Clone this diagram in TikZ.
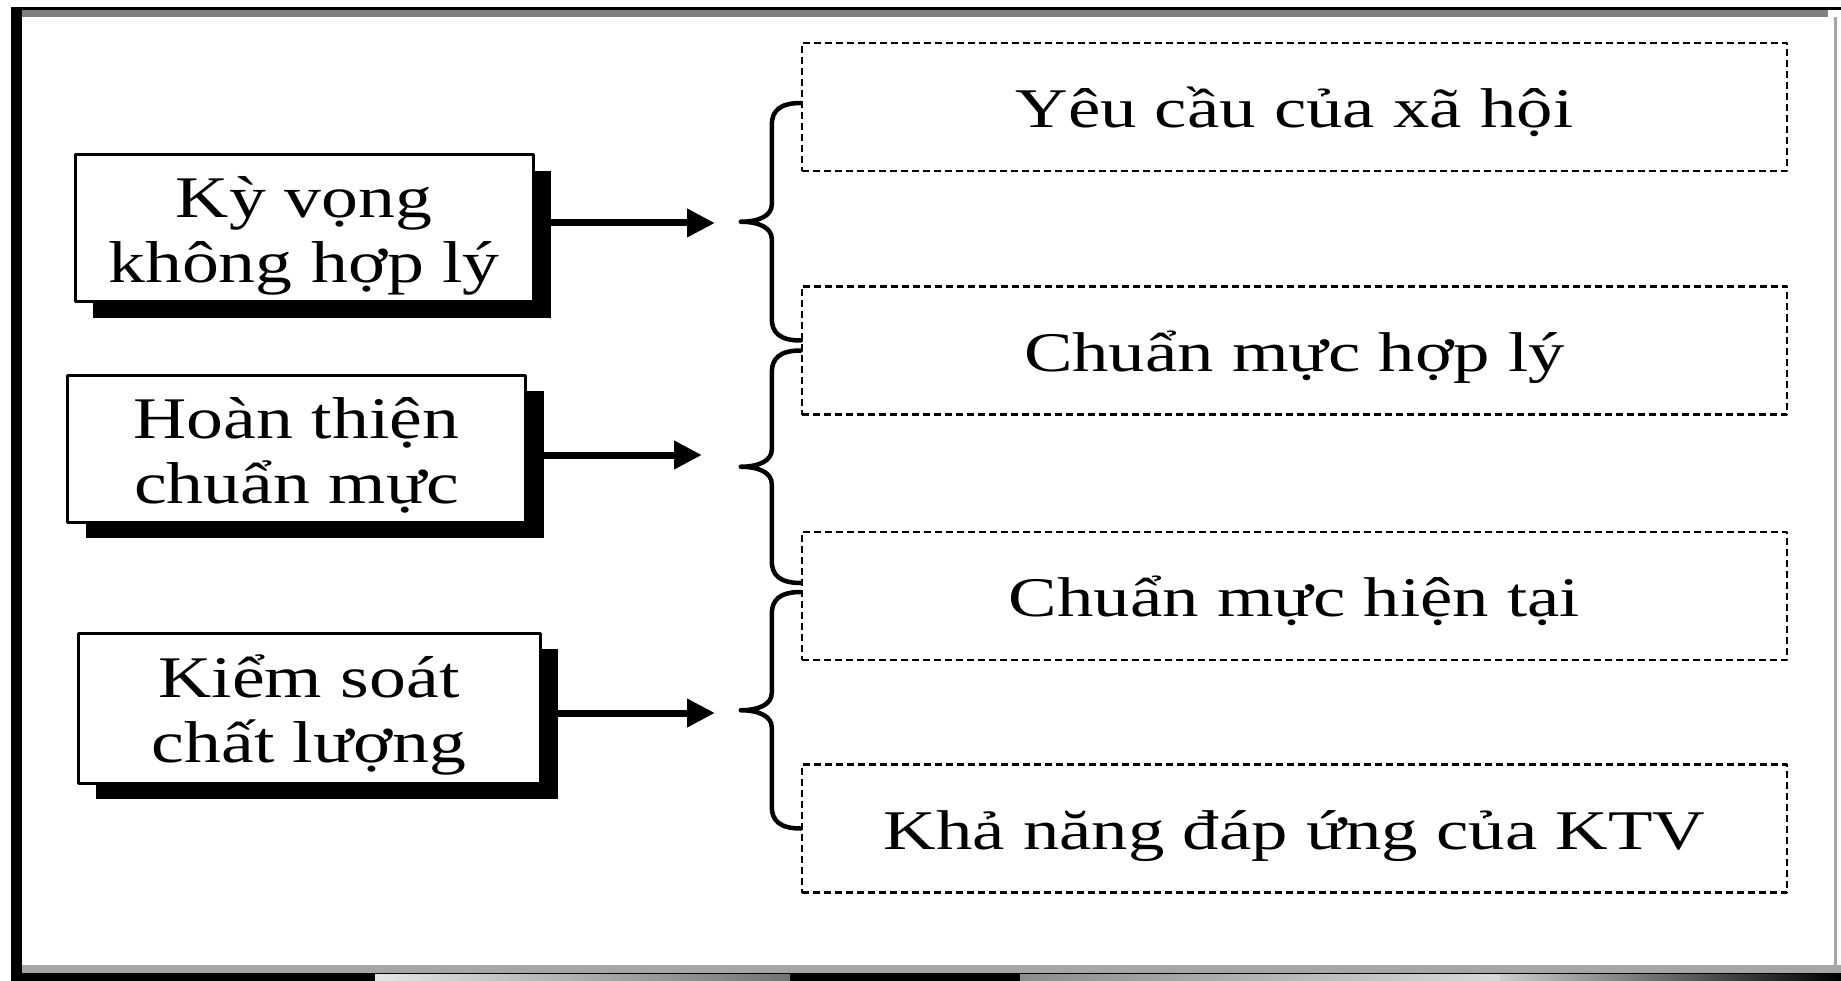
\documentclass[tikz,border=0pt]{standalone}
\usepackage{fontspec}
\setmainfont{Liberation Serif}
\newfontfamily\causefont{Liberation Serif}[FakeStretch=1.25]
\newfontfamily\itemfont{Liberation Serif}[FakeStretch=1.3]
\usetikzlibrary{arrows.meta,calc,shadows}

\newcommand\twolines[2]{\rule{0pt}{60pt}#1\\#2\rule[-16pt]{0pt}{16pt}}
\newcommand\groupbrace[3]{%
  \path ($(#1)!.5!(#2)$) coordinate (#3);
  \draw[curly] (#1) .. controls +(-21,0) and +(0,-14) .. ($(#1)+(-29,22)$)
    -- ($(#3)+(-29,-17)$) .. controls +(0,11) and +(18,0) .. ($(#3)+(-60,0)$)
    .. controls +(18,0) and +(0,-11) .. ($(#3)+(-29,17)$)
    -- ($(#2)+(-29,-22)$) .. controls +(0,14) and +(-21,0) .. (#2);}

\begin{document}
\begin{tikzpicture}
	[x=1pt,y=-1pt,line join=round,>={Triangle[length=28pt,width=27pt]},
	 cause/.style={draw,line width=3pt,fill=white,minimum width=458pt,minimum height=147pt,
	   inner sep=0pt,align=center,font=\causefont\fontsize{59}{65}\selectfont,
	   drop shadow={fill=black,opacity=1,shadow xshift=18pt,shadow yshift=-16pt}},
	 item/.style={draw,line width=2.5pt,dash pattern=on 7pt off 4pt,minimum width=985pt,
	   minimum height=128pt,inner sep=0pt,text height=52pt,text depth=11pt,
	   font=\itemfont\fontsize{56}{60}\selectfont},
	 curly/.style={line width=4.5pt,line cap=round},
	 link/.style={->,line width=7pt}]
	\useasboundingbox (0,0) rectangle (1841,981);
	\fill[white] (0,0) rectangle (1841,981);
	\fill[black] (11,7) rectangle (1841,10);
	\fill[black!50] (22,10) rectangle (1828,17);
	\fill[black] (11,7) rectangle (22,981);
	\fill[black!35] (1834,17) rectangle (1837,965);
	\fill[black!35] (22,965) rectangle (1841,973);
	\fill[black] (11,973) rectangle (1841,981);
	\shade[left color=white!90!black,right color=black!55] (375,974) rectangle (790,981);
	\shade[left color=black!45,right color=white!85!black] (1020,974) rectangle (1500,981);
	\shade[left color=white!80!black,right color=black] (1500,974) rectangle (1841,981);

	\node[cause] (k1) at (304,228.5) {\twolines{Kỳ vọng}{không hợp lý}};
	\node[cause] (k2) at (296.5,448.5) {\twolines{Hoàn thiện}{chuẩn mực}};
	\node[cause,minimum width=462pt,minimum height=150pt] (k3) at (309,708) {\twolines{Kiểm soát}{chất lượng}};

	\node[item] (r1) at (1294.5,107) {Yêu cầu của xã hội};
	\node[item] (r2) at (1294.5,350.5) {Chuẩn mực hợp lý};
	\node[item] (r3) at (1294.5,596) {Chuẩn mực hiện tại};
	\node[item] (r4) at (1294.5,828.5) {Khả năng đáp ứng của KTV};

	\coordinate (b1a) at ([yshift=4pt]r1.west);
	\coordinate (b1b) at ([yshift=10pt]r2.west);
	\coordinate (b2a) at (r2.west);
	\coordinate (b2b) at ([yshift=13pt]r3.west);
	\coordinate (b3a) at ([yshift=4pt]r3.west);
	\coordinate (b3b) at (r4.west);
	\groupbrace{b1a}{b1b}{m1}
	\groupbrace{b2a}{b2b}{m2}
	\groupbrace{b3a}{b3b}{m3}

	\coordinate (t1) at (715,223);
	\coordinate (t2) at (702,455);
	\coordinate (t3) at (715,713);
	\draw[link] (k1.east |- t1) -- (t1);
	\draw[link] (k2.east |- t2) -- (t2);
	\draw[link] (k3.east |- t3) -- (t3);
\end{tikzpicture}
\end{document}
